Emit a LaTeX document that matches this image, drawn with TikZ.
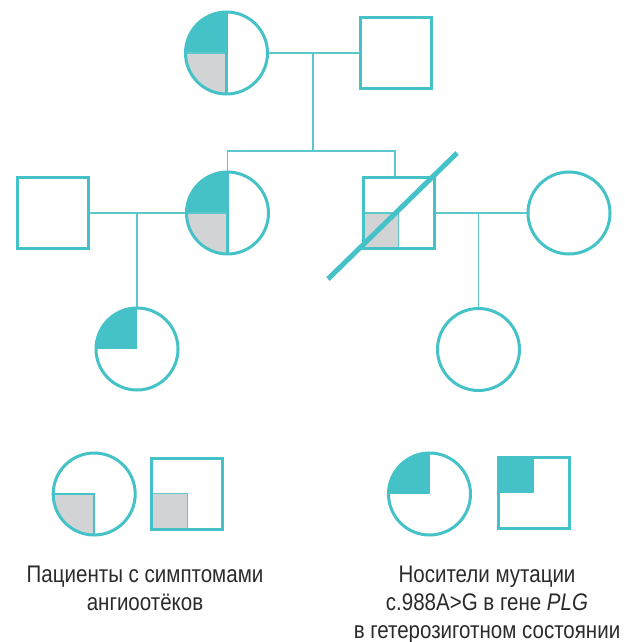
\documentclass[tikz,border=0pt]{standalone}
\usepackage{fontspec}
\setmainfont{Liberation Sans}[FakeStretch=0.855]
\usetikzlibrary{calc}
\definecolor{tl}{HTML}{45C2C7}
\definecolor{tline}{HTML}{5CC8CC}
\definecolor{gr}{HTML}{D1D3D4}
\definecolor{tx}{HTML}{2B2B2B}
\begin{document}
\begin{tikzpicture}[x=1pt,y=-1pt,
  fem/.style={circle, draw=tl, line width=3pt, minimum size=82pt, inner sep=0pt, fill=white},
  mal/.style={rectangle, draw=tl, line width=3pt, minimum size=71pt, inner sep=0pt, fill=white},
  qtl/.style={path picture={\fill[tl] (path picture bounding box.center) rectangle (path picture bounding box.north west);}},
  qgr/.style={path picture={\fill[gr] (path picture bounding box.center) rectangle (path picture bounding box.south west);
     \draw[tl, line width=2pt] (path picture bounding box.west) -- (path picture bounding box.center) -- (path picture bounding box.south);}},
  affcar/.style={path picture={\fill[tl] (path picture bounding box.center) rectangle (path picture bounding box.north west);
     \fill[gr] (path picture bounding box.center) rectangle (path picture bounding box.south west);
     \draw[tline, line width=1.5pt] (path picture bounding box.west) -- (path picture bounding box.center);
     \draw[tl, line width=2.5pt] (path picture bounding box.north) -- (path picture bounding box.south);}},
  sqgr/.style={path picture={\fill[gr] (path picture bounding box.center) rectangle (path picture bounding box.south west);
     \draw[tline, line width=1.5pt] (path picture bounding box.west) -- (path picture bounding box.center) -- (path picture bounding box.south);}},
  sqtl/.style={path picture={\fill[tl] (path picture bounding box.center) rectangle (path picture bounding box.north west);}},
  conn/.style={draw=tline, line width=1.5pt},
  txt/.style={text=tx, font=\fontsize{24}{28}\selectfont, align=center, inner sep=0pt}
]
\fill[white] (0,0) rectangle (624,642);
\useasboundingbox (0,0) rectangle (624,642);

% generation I
\node[fem, affcar] (gm) at (226.5,53) {};
\node[mal] (gf) at (396,53) {};
% generation II
\node[mal] (fa) at (53,213) {};
\node[fem, affcar] (mo) at (227.5,213) {};
\node[mal, sqgr] (un) at (398.5,213) {};
\node[fem] (wi) at (569,213) {};
% generation III
\node[fem, qtl] (c1) at (137,349) {};
\node[fem] (c2) at (478.5,349.5) {};

% connectors
\coordinate (m1) at (313,53);
\coordinate (s1) at (313,151);
\draw[conn] (gm.east) -- (gf.west);
\draw[conn] (m1) -- (s1);
\draw[conn] (mo.north) |- (s1) -| ([xshift=-3.5pt]un.north);
\coordinate (m2) at (137,213);
\draw[conn] (fa.east) -- (mo.west);
\draw[conn] (m2) -- (c1.north);
\coordinate (m3) at (478.5,213);
\draw[conn] (un.east) -- (wi.west);
\draw[conn] (m3) -- (c2.north);

% deceased mark
\coordinate (d1) at (328,279);
\coordinate (d2) at (457,153);
\draw[tl, line width=5pt] (d1) -- (d2);

% legend
\node[fem, qgr] (l1) at (94.2,494) {};
\node[mal, sqgr] (l2) at (187.4,493.7) {};
\node[fem, qtl] (l3) at (429.5,494) {};
\node[mal, sqtl] (l4) at (534.2,493.4) {};

\node[txt, anchor=base] (t1) at (145,610) {Пациенты с симптомами\\ангиоотёков};
\node[txt, anchor=base] (t2) at (487,638) {Носители мутации\\c.988A>G в гене \textit{PLG}\\в гетерозиготном состоянии};
\end{tikzpicture}
\end{document}
